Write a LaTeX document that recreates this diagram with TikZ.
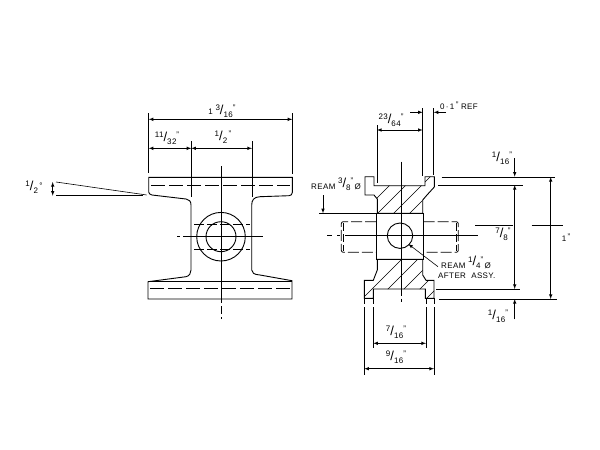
\documentclass[tikz,border=0pt]{standalone}
\usepackage{fontspec}
\setmainfont[LetterSpace=5]{Liberation Sans}
\usetikzlibrary{arrows}
\newcommand{\frc}[2]{\raisebox{3.5pt}{#1}{\fontsize{13}{13}\selectfont/}\raisebox{-3pt}{#2}}
\newcommand{\inch}{\raisebox{3.5pt}{\fontsize{8}{8}\selectfont"}}
\tikzset{
    outline/.style={line width=0.9pt},
    thin line/.style={line width=0.6pt},
    hidden/.style={line width=0.8pt,dash pattern=on 14pt off 4pt},
    dimtext/.style={font=\fontsize{8}{9}\selectfont,inner sep=0pt,align=center},
    dim/.style={thin line,latex-latex},
    extension/.style={thin line,dash pattern=on 6pt off 3pt on 99pt off 1pt},
    hatch/.style={line width=0.5pt}
}
\begin{document}
\begin{tikzpicture}[x=1pt,y=-1pt]
    \useasboundingbox[fill=white] (0,0) rectangle (600,450);
    % end view
    \draw[outline] (148.7,177.3) -- (292.3,177.3) -- (292.3,192.5) .. controls (292.3,194.5) and (291,195.5) .. (289,195.7) -- (260,196.7) .. controls (254,197) and (251.7,200) .. (251.7,205) -- (251.7,270) .. controls (251.7,273) and (254,274.5) .. (260,275) -- (292,280.7) -- (292,299) -- (148,299) -- (148,281.7) -- (186,276.7) .. controls (189.5,276) and (191,273) .. (191,270) -- (191,205) .. controls (191,201) and (189,199.5) .. (186,199) -- (152,195) .. controls (150,194.5) and (148.7,193.5) .. (148.7,192) -- cycle;
    \draw[outline] (148,281.7) -- (292,281.7);
    \draw[hidden] (151,185.3) -- (290,185.3);
    \draw[hidden] (150,288.7) -- (291,288.7);
    \draw[hidden,dash pattern=on 10pt off 3pt] (194,224) -- (250,224);
    \draw[hidden,dash pattern=on 10pt off 3pt] (194,249) -- (250,249);
    \draw[outline] (221,236.7) circle (24.3);
    \draw[outline] (221,236.7) circle (15);
    \draw[thin line,dash pattern=on 137pt off 3pt on 8pt off 3pt on 2pt off 99pt] (221,166) -- (221,320);
    \draw[thin line,dash pattern=on 80pt off 3pt on 3pt off 99pt] (262.7,236.7) -- (176.7,236.7);
    % end view dimensions
    \draw[thin line] (148.7,113) -- (148.7,173);
    \draw[thin line] (292.3,113) -- (292.3,174);
    \draw[thin line] (191.3,141) -- (191.3,197);
    \draw[thin line] (252,141) -- (252,197);
    \draw[dim] (148.7,119.3) -- (292.3,119.3);
    \draw[dim] (148.7,148.3) -- (191.3,148.3);
    \draw[dim] (191.3,148.3) -- (252,148.3);
    \node[dimtext] (overall) at (222,111) {1\,\,\frc{3}{16}\inch};
    \node[dimtext] (lug) at (167,138) {\frc{11}{32}\inch};
    \node[dimtext] (pitch) at (223,137) {\frc{1}{2}\,\inch};
    % draft angle
    \draw[thin line] (56,182) -- (146.7,195);
    \draw[thin line] (56,195.7) -- (143,195.7);
    \draw[dim] (52.7,182) -- (52.7,195.7);
    \node[dimtext] (angle) at (34,187) {\frc{1}{2}\,\raisebox{2pt}{°}};
    % side view
    \draw[outline] (365,176.7) -- (374,176.7) -- (374,185.7) -- (425,185.7) -- (425,176.7) -- (434.3,176.7) -- (434.3,187) -- (427,195) -- (422.7,200) -- (422.7,213.3) -- (377.3,213.3) -- (377.3,199) -- (374,195) -- (365,195) -- cycle;
    \draw[outline] (377.3,259.3) -- (422.7,259.3) -- (422.7,275) -- (426,280.3) -- (434,280.3) -- (434,298.3) -- (425.3,298.3) -- (425.3,289) -- (373.3,289) -- (373.3,298.3) -- (364.3,298.3) -- (364.3,280.3) -- (373.3,280.3) -- (377.3,270) -- cycle;
    \draw[outline] (376,213.3) rectangle (423.7,259.3);
    \begin{scope}
        \clip (365,176.7) -- (374,176.7) -- (374,185.7) -- (425,185.7) -- (425,176.7) -- (434.3,176.7) -- (434.3,187) -- (427,195) -- (422.7,200) -- (422.7,213.3) -- (377.3,213.3) -- (377.3,199) -- (374,195) -- (365,195) -- cycle;
        \foreach \i in {0,...,6}
            \draw[hatch] ({350+\i*16},225) -- ({400+\i*16},175);
    \end{scope}
    \begin{scope}
        \clip (377.3,259.3) -- (422.7,259.3) -- (422.7,275) -- (426,280.3) -- (434,280.3) -- (434,298.3) -- (425.3,298.3) -- (425.3,289) -- (373.3,289) -- (373.3,298.3) -- (364.3,298.3) -- (364.3,280.3) -- (373.3,280.3) -- (377.3,270) -- cycle;
        \foreach \i in {0,...,6}
            \draw[hatch] ({351+\i*16},310) -- ({411+\i*16},250);
    \end{scope}
    % boss, hidden
    \draw[hidden,rounded corners=2pt,dash pattern=on 11pt off 3pt] (376,221.7) -- (341.3,221.7) -- (341.3,252.3) -- (376,252.3);
    \draw[hidden,rounded corners=2pt,dash pattern=on 11pt off 3pt] (423.7,221.7) -- (458.3,221.7) -- (458.3,252.3) -- (423.7,252.3);
    \draw[thin line,dash pattern=on 8pt off 3pt] (343.5,223) -- (343.5,251);
    \draw[thin line,dash pattern=on 8pt off 3pt] (456.5,223) -- (456.5,251);
    \draw[outline] (400,235.7) circle (12.7);
    \draw[thin line,dash pattern=on 134pt off 3pt on 3pt off 99pt] (401,161.7) -- (401,304);
    \draw[thin line,dash pattern=on 133pt off 5pt on 3pt off 5pt on 5pt off 99pt] (477.7,235.7) -- (324,235.7);
    % side view dimensions
    \draw[thin line] (377,125) -- (377,183);
    \draw[thin line] (422.7,108) -- (422.7,176);
    \draw[thin line] (433.7,108) -- (433.7,175);
    \draw[dim] (377,130) -- (422.7,130);
    \draw[thin line,-latex] (410,112.3) -- (422.7,112.3);
    \draw[thin line,-latex] (446,112.3) -- (433.7,112.3);
    \node[dimtext] (width) at (391,120) {\frc{23}{64}\inch};
    \node[dimtext,anchor=west] (ref) at (440,106) {0\,·\,1\,\raisebox{-1pt}{\inch}\ REF};
    \node[dimtext,anchor=base west] (reamtop) at (311,189.5) {REAM \raisebox{2.5pt}{\frc{3}{8}\inch}\,Ø};
    \draw[thin line,-latex] (323,195) -- (323,213.3);
    \draw[thin line] (319,213.3) -- (376,213.3);
    \draw[thin line] (441.7,177) -- (555,177);
    \draw[thin line] (438,185) -- (522.7,185);
    \draw[thin line] (436,289) -- (520,289);
    \draw[thin line] (439,299) -- (556.7,299);
    \draw[thin line,-latex] (514.7,158) -- (514.7,176.7);
    \draw[thin line,latex-latex] (514.7,185) -- (514.7,289);
    \draw[thin line,-latex] (514.7,319.3) -- (514.7,299);
    \draw[dim] (550.7,177) -- (550.7,299);
    \draw[thin line] (475,225.3) -- (513,225.3);
    \draw[thin line] (531.7,225.3) -- (563,225.3);
    \node[dimtext] (flangetop) at (502,158) {\frc{1}{16}\inch};
    \node[dimtext] (web) at (503,234) {\frc{7}{8}\inch};
    \node[dimtext] (flangebot) at (498,316) {\frc{1}{16}\inch};
    \node[dimtext] (height) at (566,238) {1\,\raisebox{-1pt}{\inch}};
    \draw[thin line,-latex] (438,266.7) -- (408.3,244);
    \node[dimtext,anchor=base west] (bore) at (441,268) {REAM \raisebox{2.5pt}{\frc{1}{4}\inch}\,Ø};
    \node[dimtext,anchor=west] (assy) at (438,276) {AFTER\ \ ASSY.};
    % bottom dimensions
    \draw[extension] (373.3,298) -- (373.3,348);
    \draw[extension] (426,298) -- (426,348);
    \draw[extension] (364.3,298) -- (364.3,375);
    \draw[extension] (434,298) -- (434,375);
    \draw[dim] (373.3,343.3) -- (426,343.3);
    \draw[dim] (364.3,368.7) -- (434,368.7);
    \node[dimtext] (inner) at (396,332) {\frc{7}{16}\inch};
    \node[dimtext] (outer) at (396,357) {\frc{9}{16}\inch};
\end{tikzpicture}
\end{document}
